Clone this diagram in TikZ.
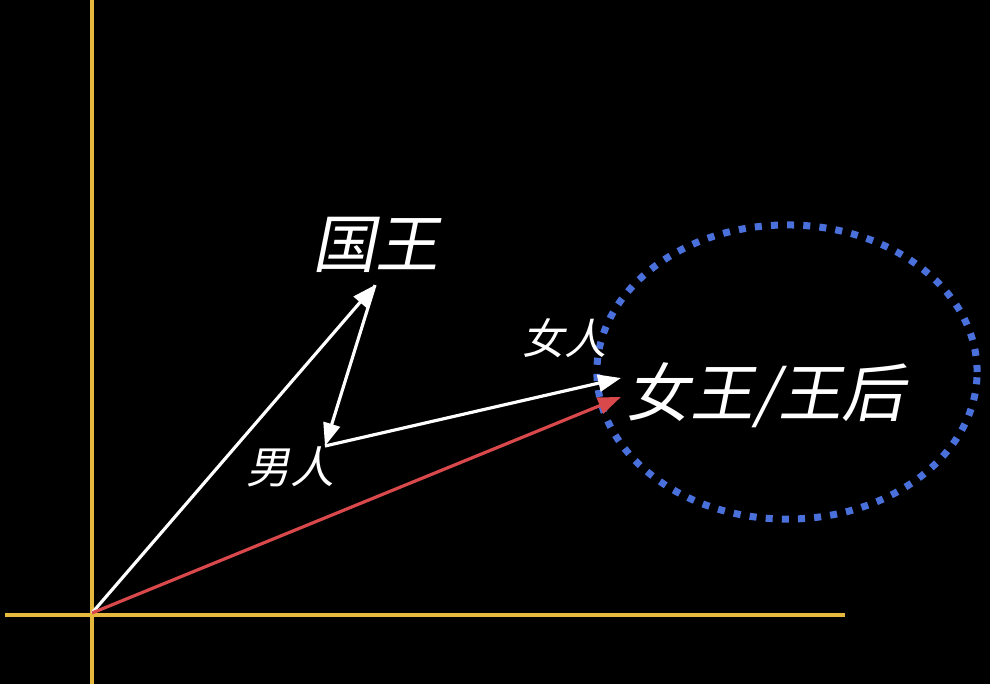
\documentclass[tikz,border=0pt]{standalone}
\usepackage{fontspec}
\newfontfamily\cjk[FakeSlant=0.2]{Noto Sans CJK SC}
\usetikzlibrary{arrows.meta,shapes.geometric}
\definecolor{axisyellow}{HTML}{E6B83C}
\definecolor{vecred}{HTML}{D9484A}
\definecolor{dotblue}{HTML}{4A70DB}
\begin{document}
\begin{tikzpicture}[x=0.01cm,y=-0.01cm,
  axis/.style={axisyellow,line width=1.1pt},
  vec/.style={white,line width=0.9pt,-{Triangle[length=6.5pt,width=4.8pt]}},
  redvec/.style={vecred,line width=0.9pt,-{Triangle[length=6.5pt,width=4.8pt]}},
  lbl/.style={text=white,font=\cjk,inner sep=0pt}]
\fill[black] (0,0) rectangle (990,684);
\useasboundingbox (0,0) rectangle (990,684);
\coordinate (O) at (92,613);
\coordinate (K) at (375,285);
\coordinate (M) at (325,446);
\coordinate (W) at (621,378);
\coordinate (Q) at (621,397);
\coordinate (vtop) at (92,0);
\coordinate (vbot) at (92,684);
\coordinate (hl) at (5,615);
\coordinate (hr) at (845,615);
\draw[axis] (vtop) -- (vbot);
\draw[axis] (hl) -- (hr);
\node[draw=dotblue,line width=2pt,dash pattern=on 2pt off 2.6pt,ellipse,minimum width=3.8cm,minimum height=2.94cm,inner sep=0pt] (E) at (787,372) {};
\draw[vec] (O) -- (K);
\draw[vec] (K) -- (M);
\draw[vec] (M) -- (W);
\draw[redvec] (O) -- (Q);
\node[lbl,font=\cjk\fontsize{18}{18}\selectfont] (tk) at (376,245) {国王};
\node[lbl,font=\cjk\fontsize{12.5}{12.5}\selectfont] (tm) at (290,467) {男人};
\node[lbl,font=\cjk\fontsize{12}{12}\selectfont] (tw) at (565,338) {女人};
\node[lbl,font=\cjk\fontsize{18}{18}\selectfont] (tq) at (766,395) {女王/王后};
\end{tikzpicture}
\end{document}
